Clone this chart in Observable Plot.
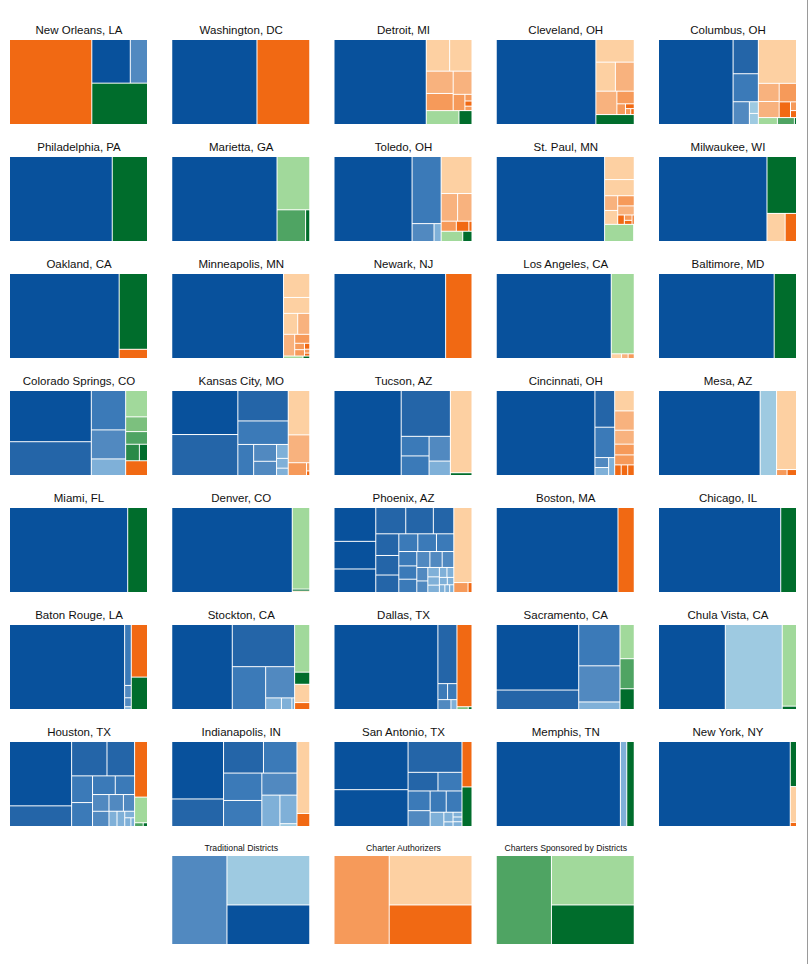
<!DOCTYPE html>
<html><head><meta charset="utf-8">
<script src="https://cdn.jsdelivr.net/npm/d3@7"></script>
<script src="https://cdn.jsdelivr.net/npm/@observablehq/plot@0.6"></script>
<style>
body{margin:0;background:#fff;}
#chart{position:relative;width:811px;height:964px;overflow:hidden;}
#chart svg{display:block;overflow:visible;}
#edge{position:absolute;left:807px;top:0;width:1px;height:964px;background:#9a9a9a;}
</style></head><body><div id="chart"><div id="edge"></div></div>
<script>
// ---- data ----
const cityNames = [
  "New Orleans, LA","Washington, DC","Detroit, MI","Cleveland, OH","Columbus, OH",
  "Philadelphia, PA","Marietta, GA","Toledo, OH","St. Paul, MN","Milwaukee, WI",
  "Oakland, CA","Minneapolis, MN","Newark, NJ","Los Angeles, CA","Baltimore, MD",
  "Colorado Springs, CO","Kansas City, MO","Tucson, AZ","Cincinnati, OH","Mesa, AZ",
  "Miami, FL","Denver, CO","Phoenix, AZ","Boston, MA","Chicago, IL",
  "Baton Rouge, LA","Stockton, CA","Dallas, TX","Sacramento, CA","Chula Vista, CA",
  "Houston, TX","Indianapolis, IN","San Antonio, TX","Memphis, TN","New York, NY"
];
const legendNames = ["Traditional Districts","Charter Authorizers","Charters Sponsored by Districts"];

// each entry: [shade, size] (shade 0 = darkest); a nested list is a sub-group
const traditional = [
  [[0,1634],[3,731]],
  [[0,7056]],
  [[0,7476]],
  [[0,8064]],
  [[0,6048],[1,825],[2,675],[3,354],[5,100],[5,95]],
  [[0,8568]],
  [[0,8703]],
  [[0,6300],[2,1852],[3,373],[4,121]],
  [[0,8879]],
  [[0,8904]],
  [[0,9156]],
  [[0,9156]],
  [[0,9240]],
  [[0,9492]],
  [[0,9576]],
  [[[0,4000],[1,2640]],[2,1292],[3,952],[4,544]],
  [[0,2752],[1,2560],[1,1450],[2,1120],[2,464],[3,365],[3,308],[4,154],[4,108],[4,81]],
  [[0,5460],[1,2156],[2,522],[2,522],[3,504],[4,294]],
  [[0,7980],[1,690],[2,571],[3,130],[4,104],[4,103]],
  [[0,8316],[5,1344]],
  [[0,9878]],
  [[0,9971]],
  [[[0,1330],[0,1086],[0,924]],[1,742],[1,683],[1,506],[1,470],[1,424],[1,379],[2,317],[2,311],[2,289],[2,243],[2,225],[2,225],[3,196],[3,184],[3,174],[3,140],[3,120],[4,102],[4,90],[4,80],[4,71],[4,64],[4,55],[4,45],[4,40],[4,35],[4,30]],
  [[0,10055]],
  [[0,10080]],
  [[0,9534],[2,395],[3,80],[3,58],[4,18]],
  [[0,4914],[1,2511],[2,1366],[3,864],[4,175],[4,116],[4,30]],
  [[0,8484],[1,1083],[2,149],[2,144],[3,124],[4,57]],
  [[[0,5120],[1,1520]],[2,1616],[3,1414],[4,295]],
  [[0,5460],[5,4654]],
  [[[0,3719],[1,1194]],[1,1131],[1,883],[2,520],[2,466],[2,395],[2,336],[3,256],[3,233],[3,224],[3,174],[4,114],[4,110],[4,60],[4,50],[4,30]],
  [[0,2785],[1,1335],[1,1179],[2,990],[2,981],[2,933],[3,725],[4,531],[4,456],[5,45]],
  [[0,3348],[0,2560],[1,1560],[1,523],[2,420],[2,408],[3,328],[2,321],[2,315],[4,184],[4,83],[4,40],[4,40],[4,40],[4,40]],
  [[0,10164],[4,521]],
  [[0,10878]]
];
const authorizers = [
  [[0,6804]],
  [[0,4368]],
  [[3,706],[3,675],[2,572],[1,440],[2,416],[1,182],[1,45],[0,35],[1,30]],
  [[3,828],[3,540],[2,522],[2,468],[1,209],[1,88],[0,40],[1,30],[0,20]],
  [[3,1596],[2,360],[2,320],[1,306],[0,170],[1,50],[0,40]],
  [],
  [],
  [[3,1085],[2,432],[2,378],[1,145],[0,120],[0,30]],
  [[3,660],[3,462],[2,186],[3,176],[1,162],[2,145],[0,60],[1,40],[0,30],[0,20]],
  [[3,493],[0,308]],
  [[0,256]],
  [[3,605],[3,403],[3,286],[2,243],[2,234],[1,130],[1,60],[1,60],[0,30],[1,20],[0,15]],
  [[0,2184]],
  [[3,47],[2,30],[1,28]],
  [],
  [[0,308]],
  [[3,903],[2,567],[1,221],[1,25],[0,14]],
  [[3,1701]],
  [[3,380],[2,360],[2,260],[1,200],[1,186],[0,66],[0,66],[0,66]],
  [[3,1517],[1,60],[0,54]],
  [],
  [[3,23]],
  [[3,1287],[1,133],[0,37]],
  [[0,1344]],
  [],
  [[0,832]],
  [[3,265],[0,100]],
  [[0,1189]],
  [],
  [],
  [[0,668]],
  [[3,861],[0,156]],
  [[0,427]],
  [],
  [[3,217],[0,25]]
];
const sponsored = [
  [[0,2240]],
  [],
  [[4,433],[0,173]],
  [[0,363]],
  [[4,126],[2,112],[0,14]],
  [[0,2940]],
  [[4,1695],[2,880],[0,128]],
  [[4,210],[0,90]],
  [[4,480],[0,10]],
  [[0,1622]],
  [[0,2109]],
  [[4,46],[0,16]],
  [],
  [[4,1794]],
  [[0,1848]],
  [[4,550],[3,308],[2,264],[1,216],[0,128]],
  [],
  [[0,57]],
  [],
  [],
  [[0,1655]],
  [[4,1390],[0,35]],
  [],
  [],
  [[0,1302]],
  [[0,512]],
  [[4,690],[0,175]],
  [[3,30],[0,10]],
  [[4,462],[2,406],[0,280]],
  [[4,1120],[0,46]],
  [[4,308],[2,30],[0,15]],
  [],
  [[0,372]],
  [[0,613]],
  [[0,273]]
];
const legendTraditional = [[3,6],[5,5],[0,4]];
const legendAuthorizers = [[1,6],[3,5],[0,4]];
const legendSponsored = [[2,6],[4,5],[0,4]];

const blues = ["#08519c","#2465a8","#3b7ab8","#5189c0","#7fb0d8","#9ecae1"];
const oranges = ["#f16913","#f69a5a","#f8b27e","#fdd0a2"];
const greens = ["#006d2c","#2a8a48","#4fa463","#7cc07e","#a1d99b"];
const palettes = [blues, oranges, greens];

// ---- layout ----
const W = 137, COLS = 5;

function treemapCells(groups, col, row, h) {
  const toNode = t => e => Array.isArray(e[0]) ? {t, children: e.map(toNode(t))} : {t, s: e[0], v: e[1]};
  const root = d3.hierarchy({children: groups
      .map((g, t) => ({t, children: g.map(toNode(t))}))
      .filter(g => g.children.length)})
    .sum(d => d.v || 0)
    .sort((a, b) => b.value - a.value);
  d3.treemap().tile(d3.treemapSquarify.ratio(1)).size([W, h]).paddingInner(1).round(false)(root);
  return root.leaves().map(leaf => ({col, row, x1: leaf.x0, x2: leaf.x1, y1: leaf.y0, y2: leaf.y1,
    color: palettes[leaf.data.t][leaf.data.s]}));
}

const cityCells = [], cityTitles = [];
cityNames.forEach((name, i) => {
  const col = i % COLS, row = Math.floor(i / COLS);
  cityCells.push(...treemapCells([traditional[i], authorizers[i], sponsored[i]], col, row, 84));
  cityTitles.push({col, row, name});
});
const legendSeries = [legendTraditional, legendAuthorizers, legendSponsored];
const legendCells = [], legendTitles = [];
legendNames.forEach((name, k) => {
  const groups = [[], [], []];
  groups[k] = legendSeries[k];
  legendCells.push(...treemapCells(groups, k + 1, 0, 88));
  legendTitles.push({col: k + 1, row: 0, name});
});

function panelPlot({cells, titles, rows, h, height, marginTop, marginBottom, fontSize, dy, rowPad}) {
  return Plot.plot({
    width: 811,
    height,
    marginLeft: 10,
    marginRight: 15,
    marginTop,
    marginBottom,
    style: {fontFamily: "'Liberation Sans', Arial, Helvetica, sans-serif", background: "white"},
    x: {domain: [0, W], axis: null},
    y: {domain: [0, h], reverse: true, axis: null},
    fx: {domain: d3.range(COLS), axis: null, paddingInner: 0.15562, paddingOuter: 0, round: false},
    fy: {domain: d3.range(rows), axis: null, paddingInner: rowPad, paddingOuter: 0, round: false},
    color: {type: "identity"},
    marks: [
      Plot.rect(cells, {fx: "col", fy: "row", x1: "x1", x2: "x2", y1: "y1", y2: "y2", fill: "color"}),
      Plot.text(titles, {fx: "col", fy: "row", text: "name", frameAnchor: "top", lineAnchor: "middle", dy, fontSize, fill: "#111"})
    ]
  });
}

const chartEl = document.getElementById("chart");
chartEl.appendChild(panelPlot({cells: cityCells, titles: cityTitles, rows: 7, h: 84,
  height: 836, marginTop: 40, marginBottom: 10, fontSize: 11.5, dy: -10, rowPad: 0.28205}));
chartEl.appendChild(panelPlot({cells: legendCells, titles: legendTitles, rows: 1, h: 88,
  height: 128, marginTop: 20, marginBottom: 20, fontSize: 8.7, dy: -8.5, rowPad: 0}));
</script>
</body></html>
